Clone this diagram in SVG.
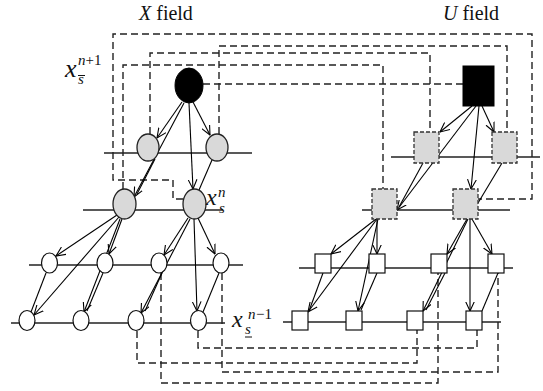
<svg xmlns="http://www.w3.org/2000/svg" width="543" height="391" viewBox="0 0 543 391">
<defs>
<marker id="a" viewBox="0 0 10 10" refX="9.5" refY="5" markerWidth="10" markerHeight="10" markerUnits="userSpaceOnUse" orient="auto">
<path d="M0,0.6 L9.5,5 L0,9.4" fill="none" stroke="#000" stroke-width="1.1"/>
</marker>
<style>
.lv{stroke:#222;stroke-width:1.3;fill:none}
.d{stroke:#222;stroke-width:1.4;fill:none;stroke-dasharray:7 4}
.e{stroke:#000;stroke-width:1.1;fill:none}
.ea{stroke:#000;stroke-width:1.1;fill:none;marker-end:url(#a)}
.g{fill:#d9d9d9;stroke:#222;stroke-width:1.3}
.gs{fill:#d9d9d9;stroke:#333;stroke-width:1.3;stroke-dasharray:4 2}
.w{fill:#fff;stroke:#111;stroke-width:1.2}
.b{fill:#000;stroke:#000}
.t{font-family:"Liberation Serif","Times New Roman",serif;fill:#111}
.i{font-style:italic}
</style>
</defs>

<g id="titles">
<text class="t" x="139" y="20" font-size="20"><tspan class="i">X</tspan> field</text>
<text class="t" x="443" y="20" font-size="20"><tspan class="i">U</tspan> field</text>
</g>

<g id="levels">
<line class="lv" x1="104" y1="153" x2="252" y2="153"/>
<line class="lv" x1="83" y1="210" x2="223" y2="210"/>
<line class="lv" x1="29" y1="265" x2="243" y2="265"/>
<line class="lv" x1="11" y1="323" x2="225" y2="323"/>
<line class="lv" x1="391" y1="157" x2="540" y2="157"/>
<line class="lv" x1="362" y1="210" x2="510" y2="210"/>
<line class="lv" x1="299" y1="268" x2="513" y2="268"/>
<line class="lv" x1="283" y1="322" x2="501" y2="322"/>
</g>

<g id="connectors">
<polyline class="d" points="219,134 219,46 507,46 507,132"/>
<polyline class="d" points="150,134 150,53 430,53 430,132"/>
<polyline class="d" points="123,189 123,65 383,65 383,189"/>
<polyline class="d" points="183,199 173,199 173,180 113,180 113,34 532,34 532,199 478,199"/>
<polyline class="d" points="203,84 463,84"/>
<polyline class="d" points="137,331 137,363 417,363 417,330"/>
<polyline class="d" points="198,331 198,348 477,348 477,330"/>
<polyline class="d" points="161,273 161,383 438,383 438,273"/>
<polyline class="d" points="222,273 222,372 498,372 498,273"/>

<line class="ea" x1="182" y1="102" x2="157" y2="138"/>
<line class="ea" x1="184" y1="103" x2="134" y2="197"/>
<line class="ea" x1="189" y1="103" x2="193" y2="189"/>
<line class="ea" x1="193" y1="102" x2="210" y2="135"/>
<line class="e" x1="155" y1="159" x2="137" y2="194"/>
<line class="e" x1="212" y1="160" x2="199" y2="190"/>

<line class="ea" x1="117" y1="215" x2="56" y2="256"/>
<line class="ea" x1="119" y1="217" x2="34" y2="315"/>
<line class="ea" x1="122" y1="219" x2="109" y2="254"/>
<line class="ea" x1="120" y1="219" x2="84" y2="312"/>
<line class="e" x1="103" y1="273" x2="87" y2="311"/>
<line class="e" x1="46" y1="273" x2="31" y2="312"/>
<line class="ea" x1="188" y1="218" x2="164" y2="255"/>
<line class="ea" x1="190" y1="219" x2="141" y2="313"/>
<line class="e" x1="162" y1="273" x2="145" y2="311"/>
<line class="ea" x1="194" y1="219" x2="197" y2="311"/>
<line class="ea" x1="198" y1="218" x2="215" y2="254"/>
<line class="e" x1="219" y1="273" x2="203" y2="312"/>

<line class="ea" x1="472" y1="106" x2="440" y2="132"/>
<line class="ea" x1="476" y1="106" x2="397" y2="210"/>
<line class="ea" x1="479" y1="106" x2="471" y2="189"/>
<line class="ea" x1="482" y1="106" x2="494" y2="132"/>
<line class="e" x1="423" y1="163" x2="399" y2="207"/>
<line class="e" x1="502" y1="163" x2="478" y2="203"/>

<line class="ea" x1="376" y1="219" x2="331" y2="254"/>
<line class="ea" x1="377" y1="219" x2="308" y2="312"/>
<line class="ea" x1="377" y1="219" x2="377" y2="254"/>
<line class="ea" x1="378" y1="219" x2="358" y2="311"/>
<line class="e" x1="377" y1="273" x2="361" y2="310"/>
<line class="e" x1="323" y1="273" x2="309" y2="311"/>
<line class="ea" x1="467" y1="219" x2="447" y2="254"/>
<line class="ea" x1="468" y1="219" x2="423" y2="311"/>
<line class="e" x1="445" y1="273" x2="426" y2="310"/>
<line class="ea" x1="470" y1="219" x2="470" y2="311"/>
<line class="ea" x1="472" y1="219" x2="492" y2="254"/>
<line class="e" x1="498" y1="273" x2="482" y2="311"/>
</g>

<g id="x-top"><ellipse class="b" cx="189" cy="85.5" rx="14" ry="17.5"/></g>
<g id="x-n1-left"><ellipse class="g" cx="148" cy="147.5" rx="11" ry="13.5"/></g>
<g id="x-n1-right"><ellipse class="g" cx="217" cy="147.5" rx="11" ry="13.5"/></g>
<g id="x-n-left"><ellipse class="g" cx="124.5" cy="204" rx="11.5" ry="15"/></g>
<g id="x-n-right"><ellipse class="g" cx="194.5" cy="204" rx="11.5" ry="15"/></g>
<g id="x-u1"><ellipse class="w" cx="49.5" cy="263" rx="8" ry="10"/></g>
<g id="x-u2"><ellipse class="w" cx="105" cy="263" rx="8" ry="10"/></g>
<g id="x-u3"><ellipse class="w" cx="159" cy="263" rx="8" ry="10"/></g>
<g id="x-u4"><ellipse class="w" cx="221" cy="263" rx="8" ry="10"/></g>
<g id="x-b1"><ellipse class="w" cx="27" cy="320.5" rx="8" ry="10"/></g>
<g id="x-b2"><ellipse class="w" cx="81" cy="320.5" rx="8" ry="10"/></g>
<g id="x-b3"><ellipse class="w" cx="136" cy="320.5" rx="8" ry="10"/></g>
<g id="x-b4"><ellipse class="w" cx="198.5" cy="320.5" rx="8" ry="10"/></g>

<g id="u-top"><rect class="b" x="463" y="66" width="31" height="40"/></g>
<g id="u-n1-left"><rect class="gs" x="414" y="132" width="25" height="31"/></g>
<g id="u-n1-right"><rect class="gs" x="492" y="132" width="25" height="31"/></g>
<g id="u-n-left"><rect class="gs" x="372" y="189" width="25" height="30"/></g>
<g id="u-n-right"><rect class="gs" x="453" y="189" width="25" height="30"/></g>
<g id="u-u1"><rect class="w" x="315" y="254" width="16" height="19"/></g>
<g id="u-u2"><rect class="w" x="369" y="254" width="16" height="19"/></g>
<g id="u-u3"><rect class="w" x="431" y="254" width="16" height="19"/></g>
<g id="u-u4"><rect class="w" x="488" y="254" width="16" height="19"/></g>
<g id="u-b1"><rect class="w" x="292" y="311" width="16" height="19"/></g>
<g id="u-b2"><rect class="w" x="346" y="311" width="16" height="19"/></g>
<g id="u-b3"><rect class="w" x="407" y="311" width="16" height="19"/></g>
<g id="u-b4"><rect class="w" x="466" y="311" width="16" height="19"/></g>

<g id="labels" class="t">
<text class="i" x="65" y="77" font-size="26">x</text>
<text class="i" x="78" y="65" font-size="15">n</text>
<text x="85.5" y="65" font-size="15">+1</text>
<text class="i" x="78" y="84" font-size="15">s</text>
<line x1="78" y1="75.5" x2="85" y2="75.5" stroke="#111" stroke-width="1"/>

<text class="i" x="206" y="205" font-size="24">x</text>
<text class="i" x="218" y="197" font-size="15">n</text>
<text class="i" x="219" y="213" font-size="15">s</text>

<text class="i" x="232" y="327" font-size="24">x</text>
<text class="i" x="248" y="319" font-size="15">n</text>
<text x="256" y="319" font-size="15">−1</text>
<text class="i" x="245" y="334" font-size="15">s</text>
<line x1="245" y1="337" x2="252" y2="337" stroke="#111" stroke-width="1"/>
</g>
</svg>
